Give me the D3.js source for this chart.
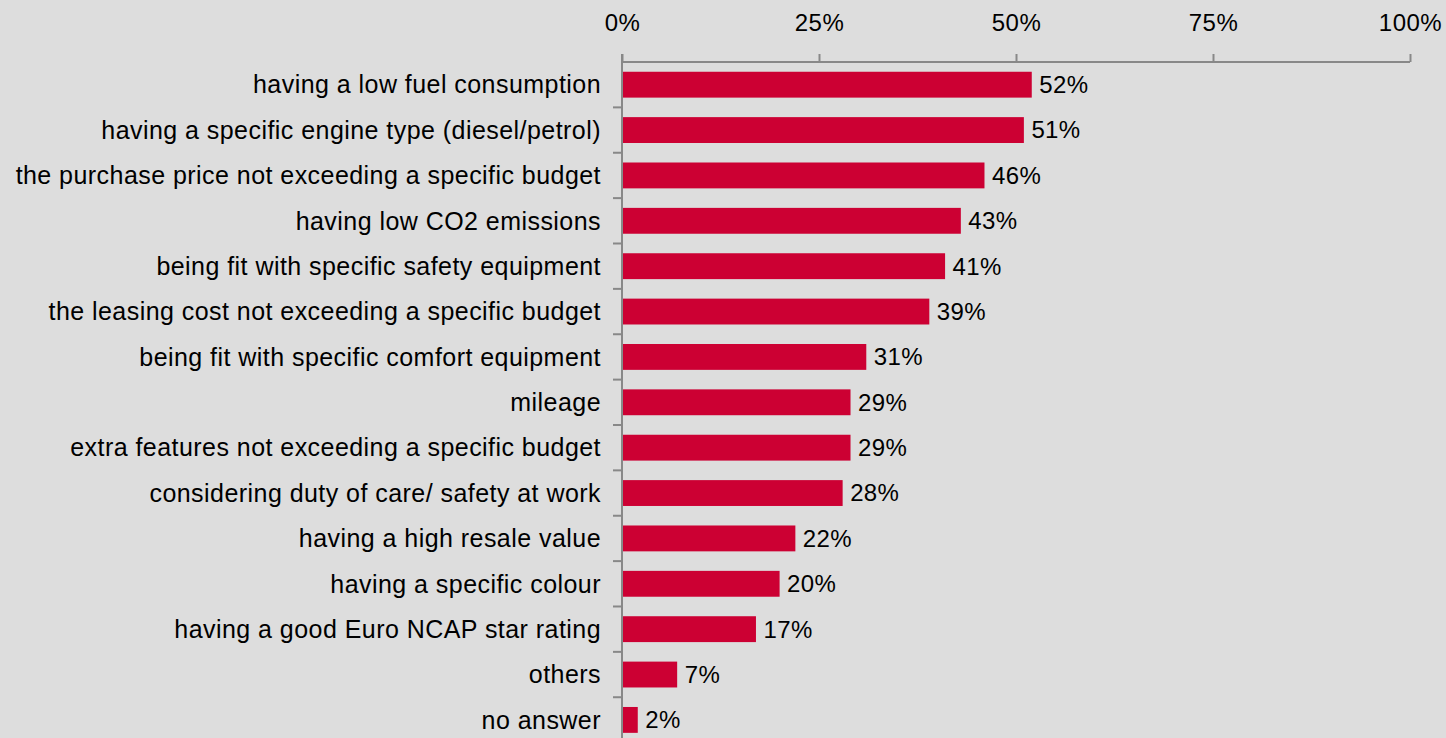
<!DOCTYPE html>
<html><head><meta charset="utf-8">
<script src="https://cdn.jsdelivr.net/npm/d3@7"></script>
<style>html,body{margin:0;padding:0;background:#dddddd;}svg{display:block;}</style>
</head><body>
<svg id="chart" width="1446" height="738"></svg>
<script>
const categories = [
  "having a low fuel consumption",
  "having a specific engine type (diesel/petrol)",
  "the purchase price not exceeding a specific budget",
  "having low CO2 emissions",
  "being fit with specific safety equipment",
  "the leasing cost not exceeding a specific budget",
  "being fit with specific comfort equipment",
  "mileage",
  "extra features not exceeding a specific budget",
  "considering duty of care/ safety at work",
  "having a high resale value",
  "having a specific colour",
  "having a good Euro NCAP star rating",
  "others",
  "no answer"
];
const values = [52, 51, 46, 43, 41, 39, 31, 29, 29, 28, 22, 20, 17, 7, 2];
const tickValues = [0, 25, 50, 75, 100];

const svg = d3.select("#chart");
const font = "'Liberation Sans', Arial, sans-serif";
const x = d3.scaleLinear().domain([0, 100]).range([622, 1410]);
const y = d3.scaleBand().domain(categories).range([62, 742.6]).paddingInner(0.43).paddingOuter(0.215);
const yb = d3.scaleBand().domain(categories).range([62, 742.6]);

// x axis on top
const xAxis = d3.axisTop(x).tickValues(tickValues).tickFormat(d => d + "%").tickSize(8).tickPadding(23);
const gx = svg.append("g").attr("transform", "translate(0,62)").call(xAxis);
gx.select(".domain").attr("stroke", "#888").attr("stroke-width", 2).attr("d", "M622,0H1410");
gx.selectAll(".tick line").attr("stroke", "#888").attr("stroke-width", 2);
gx.selectAll(".tick text").attr("font-family", font).attr("font-size", 24).attr("fill", "#000")
  .attr("letter-spacing", 0.5);

// y axis line and category ticks
svg.append("line").attr("x1", 622).attr("x2", 622).attr("y1", 54).attr("y2", 738)
  .attr("stroke", "#888").attr("stroke-width", 2);
svg.append("g").selectAll("line").data(categories.slice(1)).join("line")
  .attr("x1", 613).attr("x2", 622)
  .attr("y1", d => yb(d)).attr("y2", d => yb(d))
  .attr("stroke", "#888").attr("stroke-width", 2);

// bars
svg.append("g").selectAll("rect").data(values).join("rect")
  .attr("x", x(0) + 1)
  .attr("y", (d, i) => y(categories[i]))
  .attr("width", d => x(d) - x(0) - 1)
  .attr("height", y.bandwidth())
  .attr("fill", "#cc0033");

// category labels
svg.append("g").selectAll("text").data(categories).join("text")
  .attr("x", 601)
  .attr("y", d => y(d) + y.bandwidth() / 2)
  .attr("dy", "0.35em")
  .attr("text-anchor", "end")
  .attr("letter-spacing", 0.45)
  .attr("font-family", font).attr("font-size", 25).attr("fill", "#000")
  .text(d => d);

// value labels
svg.append("g").selectAll("text").data(values).join("text")
  .attr("x", d => x(d) + 7.5)
  .attr("y", (d, i) => y(categories[i]) + y.bandwidth() / 2)
  .attr("dy", "0.35em")
  .attr("letter-spacing", 0.4)
  .attr("font-family", font).attr("font-size", 24).attr("fill", "#000")
  .text(d => d + "%");
</script>
</body></html>
